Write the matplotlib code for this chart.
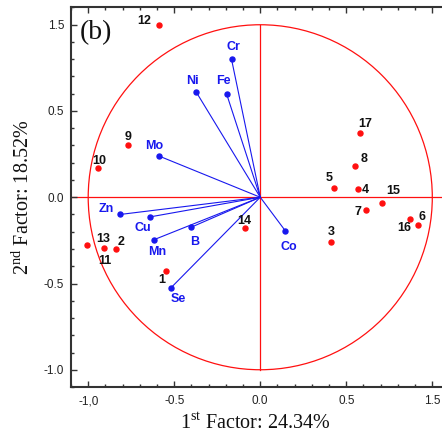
import numpy as np
import matplotlib
matplotlib.use("Agg")
import matplotlib.pyplot as plt
from matplotlib.ticker import MultipleLocator, FixedLocator, FixedFormatter
from matplotlib.patches import Circle

plt.rcParams['mathtext.fontset'] = 'custom'
plt.rcParams['mathtext.rm'] = 'Liberation Serif'
plt.rcParams['font.family'] = ['Liberation Sans', 'DejaVu Sans']

# Observations (scores)
obs_labels = ['1', '2', '3', '4', '5', '6', '7', '8', '9', '10', '11', '12', '13', '14', '15', '16', '17']
obs_x = [-0.548, -0.839, 0.414, 0.569, 0.427, 0.918, 0.612, 0.548, -0.769, -0.944, -1.006, -0.587, -0.906, -0.090, 0.705, 0.870, 0.579]
obs_y = [-0.426, -0.298, -0.259, 0.045, 0.055, -0.160, -0.075, 0.183, 0.304, 0.168, -0.278, 1.000, -0.292, -0.178, -0.032, -0.127, 0.375]

# Variables (loadings)
var_labels = ['Cr', 'Ni', 'Fe', 'Mo', 'Zn', 'Cu', 'B', 'Mn', 'Se', 'Co']
var_x = [-0.167, -0.371, -0.195, -0.591, -0.816, -0.641, -0.402, -0.620, -0.519, 0.146]
var_y = [0.800, 0.608, 0.597, 0.240, -0.100, -0.114, -0.174, -0.247, -0.525, -0.195]

# Tick labels (as printed in the reference)
tick_pos = [-1.0, -0.5, 0.0, 0.5, 1.0]
xtick_labels = ['-1,0', '-0.5', '0.0', '0.5', '1.5']
ytick_labels = ['-1.0', '-0.5', '0.0', '0.5', '1.5']

# label offsets in pixels
obs_off = {'1': (-4, -9), '2': (5, 7), '3': (0, 10), '4': (7, -1), '5': (-5, 10),
           '6': (4, 8), '7': (-8, -2), '8': (10, 7), '9': (0, 8), '10': (1, 7),
           '11': (18, -16), '12': (-15, 4), '13': (-1, 9), '14': (0, 7),
           '15': (12, 12), '16': (-6, -9), '17': (5, 9)}
var_off = {'Cr': (2, 12), 'Ni': (-4, 11), 'Fe': (-3, 13), 'Mo': (-4, 10),
           'Zn': (-14, 5), 'Cu': (-7, -11), 'B': (4, -15), 'Mn': (4, -12),
           'Se': (7, -11), 'Co': (3, -16)}

fig = plt.figure(figsize=(4.42, 4.36), dpi=100)
ax = fig.add_axes([71/442, (436-387)/436, (449.5-71)/442, (387-7.5)/436])
ax.set_xlim(-1.1, 1.1)
ax.set_ylim(-1.1, 1.1)

red = '#ff1010'
blue = '#1818ee'

ax.add_patch(Circle((0, 0), 1.0, fill=False, ec=red, lw=0.9, zorder=1))
ax.axhline(0, color=red, lw=0.9, zorder=1)
ax.plot([0, 0], [-1, 1], color=red, lw=0.9, zorder=1)

for x, y in zip(var_x, var_y):
    ax.plot([0, x], [0, y], color=blue, lw=0.8, zorder=2)
ax.plot(var_x, var_y, 'o', color=blue, ms=3.6, zorder=3)
for lab, x, y in zip(var_labels, var_x, var_y):
    ax.annotate(lab, (x, y), xytext=var_off[lab], textcoords='offset pixels',
                ha='center', va='center', color=blue, fontsize=9, fontweight='bold')

ax.plot(obs_x, obs_y, 'o', color=red, ms=3.6, zorder=3)
for lab, x, y in zip(obs_labels, obs_x, obs_y):
    ax.annotate(lab, (x, y), xytext=obs_off[lab], textcoords='offset pixels',
                ha='center', va='center', color='#111111', fontsize=9, fontweight='bold')

ax.xaxis.set_major_locator(FixedLocator(tick_pos))
ax.xaxis.set_major_formatter(FixedFormatter(xtick_labels))
ax.yaxis.set_major_locator(FixedLocator(tick_pos))
ax.yaxis.set_major_formatter(FixedFormatter(ytick_labels))
ax.xaxis.set_minor_locator(MultipleLocator(0.1))
ax.yaxis.set_minor_locator(MultipleLocator(0.1))
ax.tick_params(which='both', direction='in', top=True, right=True, color='#333333',
               width=1.0)
ax.tick_params(which='major', length=4, labelsize=8.5, labelcolor='#222222')
ax.tick_params(axis='x', which='major', pad=6)
ax.tick_params(axis='y', which='major', pad=5)
ax.tick_params(which='minor', length=2.5)
for s in ax.spines.values():
    s.set_color('#333333')
    s.set_linewidth(1.5)

serif = 'Liberation Serif'
ax.set_xlabel(r'1$^{\mathrm{st}}$ Factor: 24.34%', family=serif, fontsize=14.5, color='#111111')
ax.set_ylabel(r'2$^{\mathrm{nd}}$ Factor: 18.52%', family=serif, fontsize=14.5, color='#111111')
ax.xaxis.set_label_coords((255.5-71)/378.5, -(414-387)/379.5)
ax.yaxis.set_label_coords(-(71-34)/378.5, 0.5)

ax.text(80/442, 1 - 33/436, '(b)', transform=fig.transFigure, family=serif,
        fontsize=20, va='center', ha='left', color='#111111')

fig.savefig('out.png', dpi=100)
